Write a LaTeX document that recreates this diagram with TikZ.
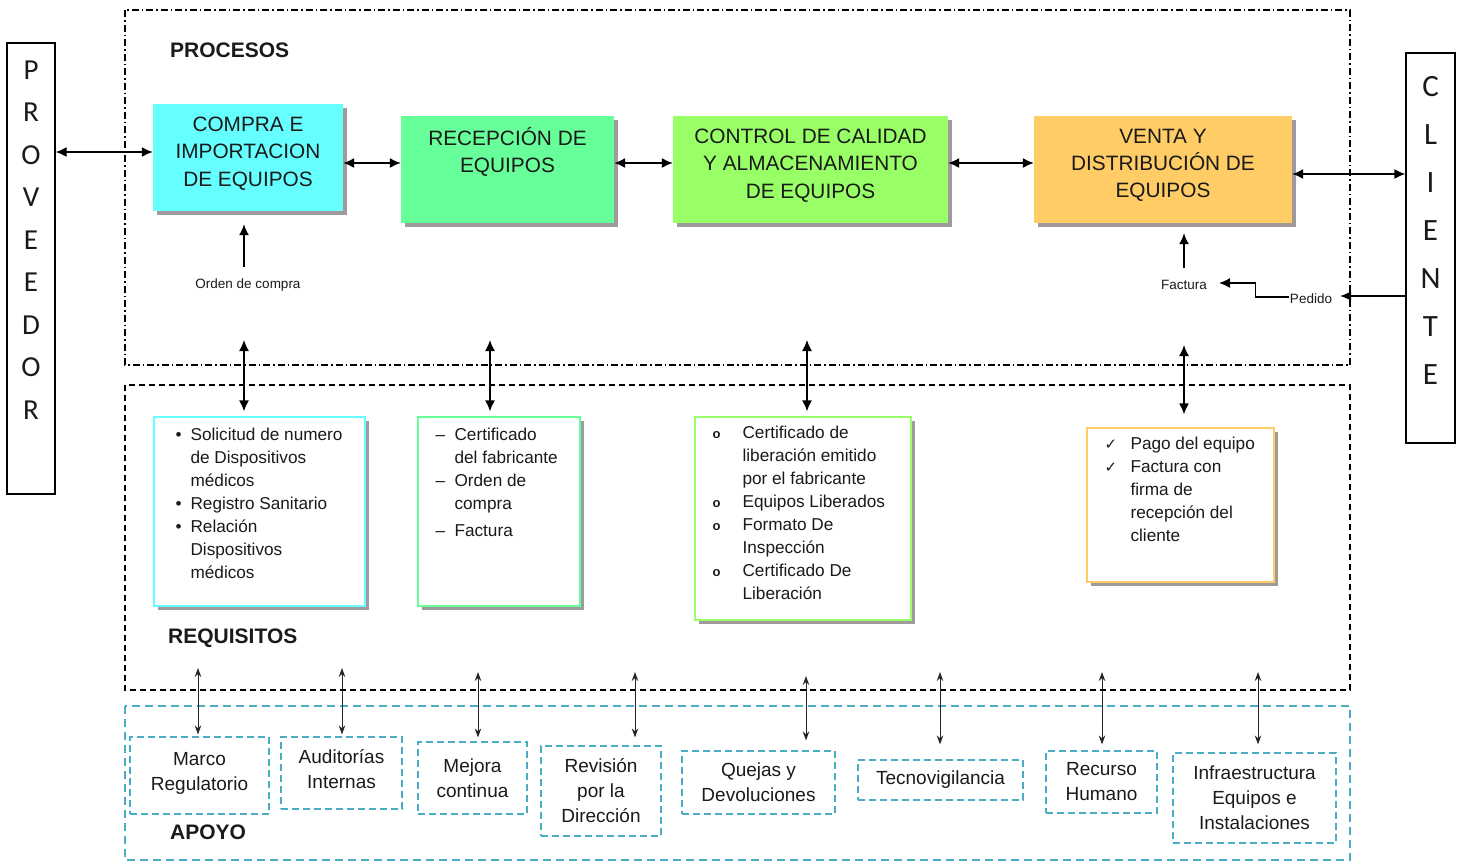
\documentclass[tikz,border=0pt]{standalone}
\usepackage{fontspec}
\setmainfont{Liberation Sans}
\newfontfamily\calibfont{Carlito}
\newfontfamily\symfont{DejaVu Sans}
\usetikzlibrary{arrows.meta,shadows,calc}

\definecolor{cyanbox}{HTML}{66FFFF}
\definecolor{mintbox}{HTML}{66FF99}
\definecolor{limebox}{HTML}{99FF66}
\definecolor{orangebox}{HTML}{FFCC66}
\definecolor{apoyoblue}{HTML}{4BACC6}
\definecolor{shadowgray}{HTML}{A09A9C}
\definecolor{inktext}{HTML}{1A1A1A}

% one list row: symbol in a fixed-width slot, then the text
\newcommand{\itemrow}[3]{\makebox[#1][l]{#2}#3}

\begin{document}
\begin{tikzpicture}[x=1pt,y=-1pt,
  boxshadow/.style={drop shadow={shadow xshift=4pt,shadow yshift=-4pt,fill=shadowgray,opacity=1}},
  procbox/.style={rectangle,inner sep=0pt,align=center,text=inktext,text depth=12pt,
    font=\fontsize{20.8}{27.3}\selectfont,boxshadow},
  reqbox/.style={rectangle,draw,line width=1.3pt,fill=white,inner sep=0pt,boxshadow},
  reqtext/.style={anchor=north west,inner sep=0pt,align=left,text=inktext,
    font=\fontsize{17.2}{23}\selectfont},
  apbox/.style={rectangle,draw=apoyoblue,dash pattern=on 7pt off 4pt,line width=1.2pt,
    align=center,inner sep=0pt,text=inktext,font=\fontsize{19}{25}\selectfont},
  sidebox/.style={rectangle,draw,line width=1.3pt,inner sep=0pt},
  sideletters/.style={align=center,inner sep=0pt,text=inktext},
  head/.style={anchor=west,inner sep=0pt,text=inktext,font=\fontsize{21}{24}\selectfont\bfseries},
  smalllabel/.style={inner sep=1pt,text=inktext,font=\fontsize{13.5}{16}\selectfont},
  dbl/.style={{Latex[length=11pt,width=10pt]}-{Latex[length=11pt,width=10pt]},line width=1.5pt},
  uparrow/.style={-{Latex[length=11pt,width=10pt]},line width=1.4pt},
  thinarrow/.style={{Stealth[length=9pt,width=6.5pt]}-{Stealth[length=9pt,width=6.5pt]},
    line width=1pt,black!85},
]
\useasboundingbox (0,0) rectangle (1461,863);

% ---- section frames ----
\draw[line width=1.1pt,dash pattern=on 7pt off 3pt on 1.5pt off 3pt]
  (125,10) rectangle (1350,365);
\draw[line width=1.1pt,dash pattern=on 6pt off 4pt]
  (125,385) rectangle (1350,690);
\draw[line width=1.4pt,apoyoblue,dash pattern=on 8pt off 5pt]
  (125,706) rectangle (1350,860);

\node[head] (lproc) at (170,50) {PROCESOS};
\node[head] (lreq) at (168,638) {REQUISITOS};
\node[head] (lapo) at (170,832) {APOYO};

% ---- side actors ----
\node[sidebox,minimum width=48pt,minimum height=451pt] (prov) at (31,268.5) {};
\node[sideletters,font=\calibfont\fontsize{29}{42.5}\selectfont] (provtxt)
  at (prov.center |- 0,240) {P\\R\\O\\V\\E\\E\\D\\O\\R};
\node[sidebox,minimum width=49pt,minimum height=390pt] (cli) at (1430.5,248) {};
\node[sideletters,font=\calibfont\fontsize{31}{48}\selectfont] (clitxt)
  at (cli.center |- 0,230) {C\\L\\I\\E\\N\\T\\E};

% ---- process chain ----
\node[procbox,fill=cyanbox,minimum width=190pt,minimum height=107pt] (compra)
  at (248,157.5) {COMPRA E\\IMPORTACION\\DE EQUIPOS};
\node[procbox,fill=mintbox,minimum width=213pt,minimum height=107pt] (rec)
  at (507.5,169.5) {RECEPCIÓN DE\\EQUIPOS\\\mbox{}};
\node[procbox,fill=limebox,minimum width=275pt,minimum height=107pt] (ctrl)
  at (810.5,169.5) {CONTROL DE CALIDAD\\Y ALMACENAMIENTO\\DE EQUIPOS};
\node[procbox,fill=orangebox,minimum width=258pt,minimum height=107pt] (venta)
  at (1163,169.5) {VENTA Y\\DISTRIBUCIÓN DE\\EQUIPOS};

\coordinate (pa) at ([yshift=5.5pt]compra.west);
\draw[dbl] (prov.east |- pa) -- (pa);
\coordinate (pb) at ([yshift=6.5pt]rec.west);
\draw[dbl] (compra.east |- pb) -- (pb);
\draw[dbl] ([yshift=6.5pt]rec.east) -- ([yshift=6.5pt]ctrl.west);
\draw[dbl] ([yshift=6.5pt]ctrl.east) -- ([yshift=6.5pt]venta.west);
\coordinate (pc) at ([yshift=-4.5pt]venta.east);
\draw[dbl] (pc) -- (cli.west |- pc);

% ---- documents flowing in ----
\node[smalllabel] (orden) at (248,285) {Orden de compra};
\draw[uparrow,shorten <=11pt,shorten >=13pt]
  ([xshift=-4pt]orden.north) -- ([xshift=-4pt]orden.north |- compra.south);
\node[smalllabel] (fact) at (1184,285) {Factura};
\draw[uparrow,shorten <=11pt,shorten >=10pt] (fact.north) -- (fact.north |- venta.south);
\node[smalllabel] (ped) at (1311,299) {Pedido};
\coordinate (pd) at ([yshift=3pt]ped.east);
\draw[-{Latex[length=11pt,width=10pt]},line width=1.3pt,shorten >=7pt] (cli.west |- pd) -- (pd);
\draw[-{Latex[length=11pt,width=10pt]},line width=1.1pt,shorten >=11pt]
  ([yshift=2pt]ped.west) -- ++(-33,0) |- ([yshift=2pt]fact.east);

% ---- requirements ----
\node[reqbox,draw=cyanbox,minimum width=211pt,minimum height=189pt] (r1) at (259.5,511.5) {};
\node[reqtext] (r1txt) at ([shift={(22,8)}]r1.north west) {%
  \begin{tabular}{@{}l@{}}
  \itemrow{15pt}{•}{Solicitud de numero}\\
  \itemrow{15pt}{}{de Dispositivos}\\
  \itemrow{15pt}{}{médicos}\\
  \itemrow{15pt}{•}{Registro Sanitario}\\
  \itemrow{15pt}{•}{Relación}\\
  \itemrow{15pt}{}{Dispositivos}\\
  \itemrow{15pt}{}{médicos}
  \end{tabular}};

\node[reqbox,draw=mintbox,minimum width=162pt,minimum height=189pt] (r2) at (499,511.5) {};
\node[reqtext] (r2txt) at ([shift={(18,8)}]r2.north west) {%
  \begin{tabular}{@{}l@{}}
  \itemrow{19pt}{–}{Certificado}\\
  \itemrow{19pt}{}{del fabricante}\\
  \itemrow{19pt}{–}{Orden de}\\
  \itemrow{19pt}{}{compra}\\[4pt]
  \itemrow{19pt}{–}{Factura}
  \end{tabular}};

\node[reqbox,draw=limebox,minimum width=216pt,minimum height=203pt] (r3) at (803,518.5) {};
\node[reqtext] (r3txt) at ([shift={(18,6)}]r3.north west) {%
  \begin{tabular}{@{}l@{}}
  \itemrow{30pt}{\fontsize{13}{13}\selectfont\bfseries o}{Certificado de}\\
  \itemrow{30pt}{}{liberación emitido}\\
  \itemrow{30pt}{}{por el fabricante}\\
  \itemrow{30pt}{\fontsize{13}{13}\selectfont\bfseries o}{Equipos Liberados}\\
  \itemrow{30pt}{\fontsize{13}{13}\selectfont\bfseries o}{Formato De}\\
  \itemrow{30pt}{}{Inspección}\\
  \itemrow{30pt}{\fontsize{13}{13}\selectfont\bfseries o}{Certificado De}\\
  \itemrow{30pt}{}{Liberación}
  \end{tabular}};

\node[reqbox,draw=orangebox,minimum width=187pt,minimum height=154pt] (r4) at (1180.5,505) {};
\node[reqtext] (r4txt) at ([shift={(18,6)}]r4.north west) {%
  \begin{tabular}{@{}l@{}}
  \itemrow{26pt}{\symfont\fontsize{15}{15}\selectfont ✓}{Pago del equipo}\\
  \itemrow{26pt}{\symfont\fontsize{15}{15}\selectfont ✓}{Factura con}\\
  \itemrow{26pt}{}{firma de}\\
  \itemrow{26pt}{}{recepción del}\\
  \itemrow{26pt}{}{cliente}
  \end{tabular}};

\coordinate (q1) at (244,340);
\coordinate (q2) at (490,340);
\coordinate (q3) at (807,340);
\coordinate (q4) at (1184,345);
\draw[dbl,shorten >=5pt] (q1) -- (q1 |- r1.north);
\draw[dbl,shorten >=5pt] (q2) -- (q2 |- r2.north);
\draw[dbl,shorten >=5pt] (q3) -- (q3 |- r3.north);
\draw[dbl,shorten >=13pt] (q4) -- (q4 |- r4.north);

% ---- support processes ----
\node[apbox,text depth=9pt,minimum width=139pt,minimum height=77pt] (marco) at (199.5,775.5) {Marco\\Regulatorio};
\node[apbox,text depth=8pt,minimum width=121pt,minimum height=72pt] (audit) at (341.5,773) {Auditorías\\Internas};
\node[apbox,minimum width=109pt,minimum height=72pt] (mejora) at (472.5,778) {Mejora\\continua};
\node[apbox,minimum width=120pt,minimum height=90pt] (revis) at (601,791) {Revisión\\por la\\Dirección};
\node[apbox,minimum width=153pt,minimum height=63pt] (quejas) at (758.5,782.5) {Quejas y\\Devoluciones};
\node[apbox,minimum width=165pt,minimum height=40pt] (tecno) at (940.5,780) {Tecnovigilancia};
\node[apbox,minimum width=111pt,minimum height=62pt] (recur) at (1101.5,782) {Recurso\\Humano};
\node[apbox,minimum width=163pt,minimum height=90pt] (infra) at (1254.5,798) {Infraestructura\\Equipos e\\Instalaciones};

\coordinate (t1) at (198,668);
\coordinate (t2) at (342,668);
\coordinate (t3) at (478,672);
\coordinate (t4) at (635,672);
\coordinate (t5) at (806,676);
\coordinate (t6) at (940,672);
\coordinate (t7) at (1102,672);
\coordinate (t8) at (1258,672);
\draw[thinarrow,shorten >=2pt] (t1) -- (t1 |- marco.north);
\draw[thinarrow,shorten >=2pt] (t2) -- (t2 |- audit.north);
\draw[thinarrow,shorten >=4pt] (t3) -- (t3 |- mejora.north);
\draw[thinarrow,shorten >=8pt] (t4) -- (t4 |- revis.north);
\draw[thinarrow,shorten >=10pt] (t5) -- (t5 |- quejas.north);
\draw[thinarrow,shorten >=15pt] (t6) -- (t6 |- tecno.north);
\draw[thinarrow,shorten >=6pt] (t7) -- (t7 |- recur.north);
\draw[thinarrow,shorten >=8pt] (t8) -- (t8 |- infra.north);
\end{tikzpicture}
\end{document}
